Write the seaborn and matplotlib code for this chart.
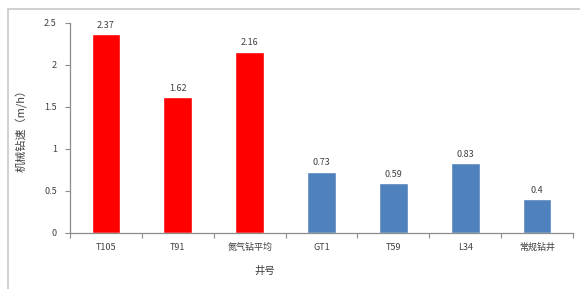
import matplotlib
matplotlib.use("Agg")
import matplotlib.pyplot as plt
import seaborn as sns
import pandas as pd
from matplotlib.patches import Rectangle
from matplotlib.ticker import FixedLocator

# 数据
wells = ["T105", "T91", "氮气钻平均", "GT1", "T59", "L34", "常规钻井"]
speeds = [2.37, 1.62, 2.16, 0.73, 0.59, 0.83, 0.4]
bar_colors = ["#FF0000", "#FF0000", "#FF0000", "#4F81BD", "#4F81BD", "#4F81BD", "#4F81BD"]
y_ticks = [0, 0.5, 1, 1.5, 2, 2.5]
y_tick_labels = ["0", "0.5", "1", "1.5", "2", "2.5"]

sns.set_theme(style="white")
plt.rcParams['font.family'] = ['Noto Sans CJK SC', 'DejaVu Sans']

df = pd.DataFrame({"well": wells, "speed": speeds})

fig = plt.figure(figsize=(5.8, 2.89), dpi=100)
ax = fig.add_axes([70 / 580, 1 - 233 / 289, 503 / 580, 210 / 289])

sns.barplot(data=df, x="well", y="speed", hue="well", palette=bar_colors,
            legend=False, width=0.4, ax=ax, saturation=1)

txt = "#404040"
# 数值标签
for i, v in enumerate(speeds):
    ax.text(i, v + 0.05, f"{v:g}", ha="center", va="bottom", fontsize=6.5,
            color=txt, fontweight="medium")

ax.set_xlim(-0.5, 6.5)
ax.set_ylim(0, 2.5)
ax.set_yticks(y_ticks)
ax.set_yticklabels(y_tick_labels)

# 坐标轴
for s in ["top", "right"]:
    ax.spines[s].set_visible(False)
for s in ["left", "bottom"]:
    ax.spines[s].set_color("#8c8c8c")
    ax.spines[s].set_linewidth(0.9)

ax.tick_params(axis="y", which="major", direction="out", length=3.5, width=0.8,
               color="#8c8c8c", labelsize=6.5, labelcolor=txt, pad=6, left=True)
ax.tick_params(axis="x", which="major", length=0, labelsize=6.5, labelcolor=txt, pad=7)
ax.xaxis.set_minor_locator(FixedLocator([i - 0.5 for i in range(len(wells) + 1)]))
ax.tick_params(axis="x", which="minor", direction="out", length=3.5, width=0.8,
               color="#8c8c8c", bottom=True)
for lab in ax.get_xticklabels() + ax.get_yticklabels():
    lab.set_fontweight("medium")

ax.set_xlabel("井号", fontsize=7.5, color=txt, fontweight="medium")
ax.xaxis.set_label_coords((265 - 70) / 503, -33 / 210)
ax.set_ylabel("机械钻速（m/h）", fontsize=8, color=txt, fontweight="medium")
ax.yaxis.set_label_coords((28 - 70) / 503, 0.5)

# 外框
fig.patches.append(Rectangle((8 / 580, -0.05), 1.3, 1 - 9 / 289 + 0.05,
                             transform=fig.transFigure, fill=False,
                             edgecolor="#c8c8c8", linewidth=1.2))

fig.savefig("out.png", dpi=100)
